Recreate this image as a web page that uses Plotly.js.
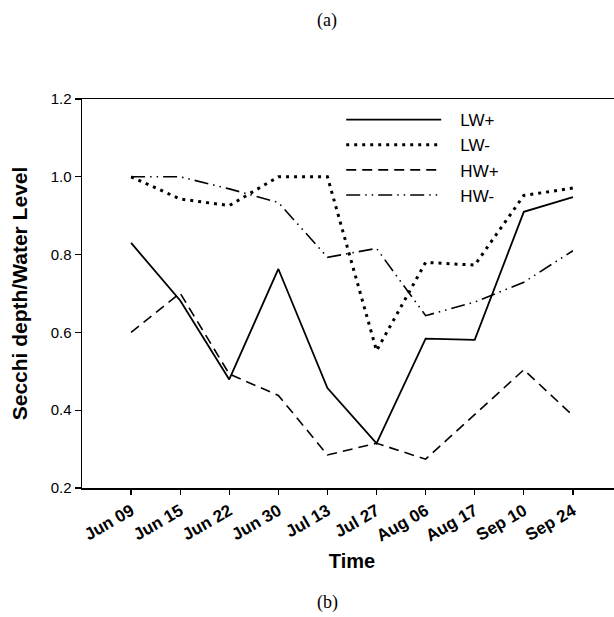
<!DOCTYPE html>
<html>
<head>
<meta charset="utf-8">
<script src="https://cdn.plot.ly/plotly-3.0.1.min.js"></script>
<style>
html,body{margin:0;padding:0;overflow:hidden;background:#fff;}
#chart{width:640px;height:617px;}
</style>
</head>
<body>
<div id="chart"></div>
<script>
var dates = ["Jun 09","Jun 15","Jun 22","Jun 30","Jul 13","Jul 27","Aug 06","Aug 17","Sep 10","Sep 24"];
var lwPlus  = [0.830,0.682,0.479,0.763,0.457,0.315,0.584,0.581,0.910,0.948];
var lwMinus = [1.000,0.943,0.926,1.000,1.000,0.553,0.780,0.773,0.952,0.971];
var hwPlus  = [0.600,0.701,0.493,0.438,0.285,0.315,0.274,0.390,0.504,0.386];
var hwMinus = [1.000,1.000,0.969,0.934,0.793,0.816,0.643,0.678,0.729,0.810];
var seriesNames = ["LW+","LW-","HW+","HW-"];
var pad = "\u00a0\u00a0\u00a0";

var traces = [
  {x:dates, y:lwPlus, name:pad+seriesNames[0], mode:"lines", line:{color:"#000", width:1.8, dash:"solid"}},
  {x:dates, y:lwMinus, name:pad+seriesNames[1], mode:"lines", line:{color:"#000", width:3, dash:"3px,5px"}},
  {x:dates, y:hwPlus, name:pad+seriesNames[2], mode:"lines", line:{color:"#000", width:1.6, dash:"10px,6px"}},
  {x:dates, y:hwMinus, name:pad+seriesNames[3], mode:"lines", line:{color:"#000", width:1.6, dash:"14px,5px,1.5px,5px,1.5px,5px"}}
];

var layout = {
  width:640, height:617,
  margin:{l:82, r:18, t:99, b:129},
  paper_bgcolor:"#fff", plot_bgcolor:"#fff",
  showlegend:true,
  font:{family:"Liberation Sans, Arial, sans-serif", color:"#000"},
  legend:{x:0.48, y:0.992, xanchor:"left", yanchor:"top", bgcolor:"rgba(0,0,0,0)",
          font:{size:17, family:"Liberation Sans, Arial, sans-serif"}, itemwidth:95, tracegroupgap:0},
  xaxis:{
    type:"category", range:[-1,10], showgrid:false, zeroline:false,
    showline:true, linecolor:"#000", linewidth:1.5, mirror:true,
    ticks:"outside", ticklen:5, tickcolor:"#000", tickwidth:1.2,
    tickangle:-30,
    tickfont:{size:17, family:"Liberation Sans, Arial, sans-serif", weight:"bold"},
    title:{text:"<b>Time</b>", font:{size:20, family:"Liberation Sans, Arial, sans-serif"}, standoff:9}
  },
  yaxis:{
    range:[0.2,1.2], dtick:0.2, tickformat:".1f", showgrid:false, zeroline:false,
    showline:true, linecolor:"#000", linewidth:1.5,
    ticks:"outside", ticklen:6, tickcolor:"#000", tickwidth:1.2,
    tickfont:{size:15, family:"Liberation Sans, Arial, sans-serif"},
    title:{text:"<b>Secchi depth/Water Level</b>", font:{size:21, family:"Liberation Sans, Arial, sans-serif"}, standoff:17}
  },
  annotations:[
    {text:"(a)", xref:"paper", yref:"paper", x:(327-82)/540, y:(488-20)/389, showarrow:false,
     xanchor:"center", yanchor:"middle", font:{family:"Liberation Serif, Times New Roman, serif", size:18}},
    {text:"(b)", xref:"paper", yref:"paper", x:(327-82)/540, y:(488-602)/389, showarrow:false,
     xanchor:"center", yanchor:"middle", font:{family:"Liberation Serif, Times New Roman, serif", size:18}}
  ]
};

Plotly.newPlot("chart", traces, layout, {displayModeBar:false, staticPlot:true});
</script>
</body>
</html>
